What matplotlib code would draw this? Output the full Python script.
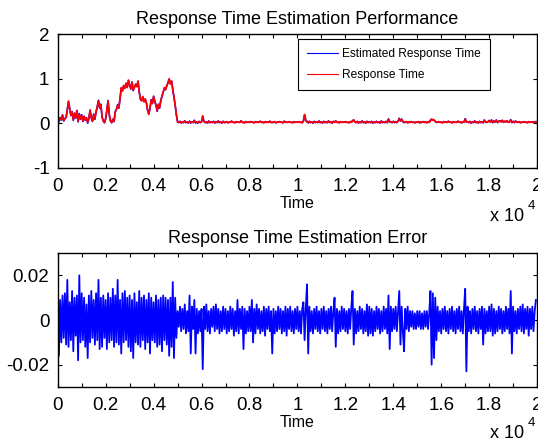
import numpy as np
import matplotlib.pyplot as plt
from matplotlib.ticker import MultipleLocator, FuncFormatter

plt.switch_backend("Agg")
plt.rcParams["font.family"] = ["Liberation Sans", "DejaVu Sans"]
plt.rcParams["axes.unicode_minus"] = False

# sampling step of the time axis
step = 50

# response time, one value every 50 time units
response_time = [
    0.15, 0.05, 0.12, 0.08, 0.18, 0.06, 0.10, 0.14, 0.30, 0.50, 0.32, 0.18, 0.25, 0.08, 0.22, 0.12, 0.28, 0.05, 0.20, 0.10,
    0.18, 0.05, 0.15, 0.08, 0.12, 0.02, 0.10, 0.30, 0.12, 0.05, 0.20, 0.10, 0.25, 0.38, 0.50, 0.35, 0.42, 0.15, 0.05, 0.02,
    0.10, 0.30, 0.50, 0.20, 0.05, 0.02, 0.08, 0.05, 0.25, 0.32, 0.40, 0.35, 0.55, 0.80, 0.72, 0.85, 0.78, 0.90, 0.80, 0.97,
    0.85, 0.78, 0.92, 0.75, 0.80, 0.88, 0.82, 0.95, 0.70, 0.55, 0.50, 0.60, 0.48, 0.55, 0.45, 0.30, 0.20, 0.35, 0.52, 0.45,
    0.60, 0.50, 0.40, 0.28, 0.42, 0.35, 0.50, 0.62, 0.70, 0.80, 0.75, 0.85, 0.90, 1.00, 0.88, 0.95, 0.75, 0.60, 0.40, 0.20,
    0.03, 0.02, 0.04, 0.01, 0.03, 0.02, 0.05, 0.02, 0.03, 0.01, 0.04, 0.02, 0.03, 0.02, 0.06, 0.02, 0.03, 0.01, 0.04, 0.02,
    0.03, 0.17, 0.04, 0.02, 0.03, 0.01, 0.05, 0.02, 0.03, 0.02, 0.04, 0.01, 0.03, 0.02, 0.05, 0.02, 0.03, 0.01, 0.04, 0.02,
    0.02, 0.04, 0.01, 0.03, 0.02, 0.05, 0.02, 0.03, 0.01, 0.04, 0.02, 0.03, 0.02, 0.06, 0.02, 0.03, 0.01, 0.04, 0.02, 0.03,
    0.02, 0.04, 0.02, 0.03, 0.01, 0.04, 0.02, 0.03, 0.02, 0.05, 0.02, 0.03, 0.01, 0.04, 0.02, 0.03, 0.02, 0.05, 0.02, 0.03,
    0.02, 0.04, 0.01, 0.03, 0.02, 0.04, 0.02, 0.03, 0.01, 0.05, 0.02, 0.03, 0.02, 0.04, 0.02, 0.03, 0.01, 0.04, 0.02, 0.03,
    0.02, 0.04, 0.02, 0.03, 0.01, 0.05, 0.20, 0.06, 0.03, 0.02, 0.04, 0.02, 0.03, 0.01, 0.04, 0.02, 0.03, 0.02, 0.05, 0.02,
    0.03, 0.01, 0.04, 0.02, 0.03, 0.02, 0.05, 0.02, 0.03, 0.01, 0.04, 0.02, 0.06, 0.02, 0.03, 0.01, 0.04, 0.02, 0.03, 0.02,
    0.04, 0.02, 0.03, 0.01, 0.04, 0.02, 0.05, 0.08, 0.03, 0.02, 0.04, 0.01, 0.03, 0.02, 0.05, 0.02, 0.03, 0.01, 0.04, 0.02,
    0.03, 0.02, 0.04, 0.01, 0.03, 0.02, 0.04, 0.02, 0.03, 0.01, 0.05, 0.02, 0.03, 0.02, 0.04, 0.02, 0.09, 0.04, 0.03, 0.02,
    0.04, 0.02, 0.03, 0.02, 0.05, 0.10, 0.06, 0.09, 0.04, 0.03, 0.02, 0.04, 0.01, 0.03, 0.02, 0.04, 0.02, 0.03, 0.01, 0.03,
    0.02, 0.04, 0.01, 0.03, 0.02, 0.04, 0.02, 0.03, 0.01, 0.04, 0.02, 0.06, 0.10, 0.07, 0.08, 0.04, 0.03, 0.02, 0.04, 0.02,
    0.03, 0.01, 0.04, 0.02, 0.03, 0.02, 0.05, 0.02, 0.03, 0.01, 0.04, 0.02, 0.03, 0.02, 0.05, 0.02, 0.03, 0.01, 0.04, 0.02,
    0.09, 0.05, 0.03, 0.02, 0.04, 0.01, 0.03, 0.02, 0.05, 0.02, 0.03, 0.01, 0.04, 0.02, 0.03, 0.02, 0.07, 0.03, 0.02, 0.04,
    0.06, 0.03, 0.07, 0.02, 0.05, 0.03, 0.07, 0.02, 0.04, 0.06, 0.03, 0.07, 0.02, 0.05, 0.03, 0.06, 0.02, 0.04, 0.07, 0.03,
    0.04, 0.02, 0.05, 0.03, 0.02, 0.04, 0.01, 0.03, 0.02, 0.04, 0.02, 0.03, 0.01, 0.04, 0.02, 0.03, 0.02, 0.04, 0.02, 0.03,
]

# estimation error on the same grid
estimation_error = [
    0.019, -0.016, 0.009, -0.010, 0.011, -0.008, 0.012, -0.011, 0.018, -0.012, 0.008, -0.009, 0.013, -0.014, 0.010, -0.007, 0.011, -0.018, 0.020, -0.010,
    0.012, -0.009, 0.010, -0.012, 0.007, -0.017, 0.011, -0.010, 0.013, -0.008, 0.009, -0.011, 0.012, -0.009, 0.018, -0.013, 0.010, -0.012, 0.011, -0.008,
    0.009, -0.013, 0.012, -0.010, 0.010, -0.009, 0.014, -0.012, 0.011, -0.010, 0.018, -0.011, 0.009, -0.015, 0.012, -0.010, 0.013, -0.009, 0.010, -0.012,
    0.011, -0.014, 0.009, -0.017, 0.012, -0.010, 0.008, -0.011, 0.013, -0.012, 0.010, -0.009, 0.011, -0.013, 0.009, -0.010, 0.012, -0.015, 0.010, -0.009,
    0.008, -0.010, 0.011, -0.012, 0.009, -0.011, 0.010, -0.014, 0.011, -0.009, 0.010, -0.011, 0.009, -0.016, 0.010, -0.012, 0.017, -0.017, 0.010, -0.008,
    0.004, -0.003, 0.006, -0.005, 0.005, -0.004, 0.007, -0.006, 0.004, -0.005, 0.011, -0.015, 0.006, -0.004, 0.009, -0.015, 0.005, -0.006, 0.004, -0.005,
    0.005, -0.022, 0.006, -0.004, 0.007, -0.005, 0.004, -0.006, 0.005, -0.003, 0.006, -0.005, 0.007, -0.004, 0.005, -0.006, 0.004, -0.005, 0.006, -0.004,
    0.005, -0.006, 0.004, -0.005, 0.006, -0.004, 0.005, -0.007, 0.004, -0.005, 0.009, -0.006, 0.005, -0.004, 0.006, -0.013, 0.005, -0.006, 0.004, -0.005,
    0.006, -0.005, 0.009, -0.010, 0.005, -0.006, 0.007, -0.004, 0.005, -0.006, 0.004, -0.005, 0.006, -0.007, 0.005, -0.004, 0.006, -0.005, 0.004, -0.015,
    0.005, -0.006, 0.004, -0.005, 0.006, -0.004, 0.005, -0.006, 0.004, -0.005, 0.006, -0.007, 0.005, -0.004, 0.006, -0.005, 0.004, -0.006, 0.005, -0.004,
    0.006, -0.005, 0.004, -0.006, 0.005, 0.008, -0.009, 0.005, 0.016, -0.015, 0.006, -0.005, 0.004, -0.006, 0.005, -0.004, 0.006, -0.005, 0.004, -0.006,
    0.005, -0.004, 0.006, -0.005, 0.004, -0.006, 0.005, -0.004, 0.006, -0.005, 0.004, 0.010, -0.012, 0.005, -0.006, 0.004, -0.005, 0.006, -0.004, 0.005,
    -0.005, 0.004, -0.006, 0.005, -0.004, 0.006, 0.013, -0.011, 0.005, -0.006, 0.004, -0.005, 0.006, -0.004, 0.005, -0.006, 0.004, -0.005, 0.007, -0.007,
    0.006, -0.006, 0.005, -0.007, 0.004, -0.005, 0.006, -0.004, 0.005, -0.006, 0.004, -0.005, 0.006, -0.004, 0.005, -0.006, 0.011, -0.013, 0.006, -0.005,
    0.005, -0.004, 0.006, -0.005, 0.004, 0.013, -0.011, 0.006, -0.005, -0.014, 0.005, -0.004, 0.006, -0.005, 0.004, -0.003, 0.004, -0.004, 0.003, -0.004,
    0.004, -0.003, 0.004, -0.004, 0.003, -0.004, 0.004, -0.003, 0.004, -0.004, 0.003, 0.013, -0.020, 0.012, -0.017, 0.010, -0.009, 0.006, -0.005, 0.004,
    -0.006, 0.005, -0.004, 0.006, -0.005, 0.004, -0.006, 0.005, -0.004, 0.006, -0.005, 0.004, -0.006, 0.005, -0.004, 0.006, -0.005, 0.004, -0.006, 0.005,
    0.014, -0.023, 0.006, -0.005, 0.004, -0.006, 0.005, -0.004, 0.006, -0.005, 0.004, -0.006, 0.005, -0.004, 0.006, -0.011, 0.005, -0.006, 0.004, -0.005,
    0.006, -0.005, 0.007, -0.007, 0.005, -0.006, 0.004, -0.005, 0.006, -0.004, 0.005, -0.006, 0.004, -0.005, 0.006, -0.004, 0.005, -0.006, 0.013, -0.015,
    0.006, -0.005, 0.004, -0.006, 0.005, -0.004, 0.006, -0.005, 0.007, -0.006, 0.005, -0.004, 0.006, -0.007, 0.005, -0.004, 0.006, -0.005, 0.004, 0.009,
]

time = np.arange(len(response_time)) * step
estimated_time = np.array(response_time) + np.array(estimation_error)

fig = plt.figure(figsize=(5.38, 4.45), dpi=100)
ax1 = fig.add_axes([0.1073, 0.6225, 0.891, 0.301])
ax2 = fig.add_axes([0.1073, 0.1303, 0.891, 0.301])

# upper plot
ax1.plot(time, estimated_time, color="#0000ff", lw=1.2, label="Estimated Response Time")
ax1.plot(time, response_time, color="#ff0000", lw=1.2, label="Response Time")
ax1.set_ylim(-1, 2)
ax1.set_yticks([-1, 0, 1, 2])
ax1.set_title("Response Time Estimation Performance", fontsize=13, pad=7.5)
leg = ax1.legend(loc="upper left", bbox_to_anchor=(0.502, 0.963), borderaxespad=0,
                 fontsize=8.6, fancybox=False, framealpha=1, edgecolor="black",
                 handlelength=2.6, handletextpad=0.3, borderpad=0.75, labelspacing=0.75)
leg.get_frame().set_linewidth(0.8)
for h in leg.get_lines():
    h.set_linewidth(0.8)

# lower plot
ax2.plot(time, estimation_error, color="#0000ff", lw=1.3)
ax2.set_ylim(-0.03, 0.03)
ax2.set_yticks([-0.02, 0, 0.02])
ax2.yaxis.set_major_formatter(FuncFormatter(lambda v, p: "%g" % v))
ax2.set_title("Response Time Estimation Error", fontsize=13, pad=7.5)

for ax in (ax1, ax2):
    ax.set_xlim(0, 20000)
    ax.xaxis.set_major_locator(MultipleLocator(2000))
    ax.xaxis.set_minor_locator(MultipleLocator(1000))
    ax.xaxis.set_major_formatter(FuncFormatter(lambda v, p: "%g" % (v / 1e4)))
    ax.tick_params(which="both", direction="in", top=True, right=True,
                   length=3, width=0.8, labelsize=13.5)
    ax.tick_params(axis="x", pad=7)
    ax.tick_params(axis="y", pad=6)
    ax.set_xlabel("Time", fontsize=11.5, labelpad=1)
    for s in ax.spines.values():
        s.set_linewidth(1.0)

# MATLAB style exponent note under each x axis
for ybase in (1 - 221 / 445, 1 - 438 / 445):
    fig.text(0.911, ybase, "x 10", fontsize=13, ha="left", va="baseline")
    fig.text(0.980, ybase + 0.028, "4", fontsize=9.5, ha="left", va="baseline")

fig.savefig("out.png", dpi=100)
plt.close(fig)
